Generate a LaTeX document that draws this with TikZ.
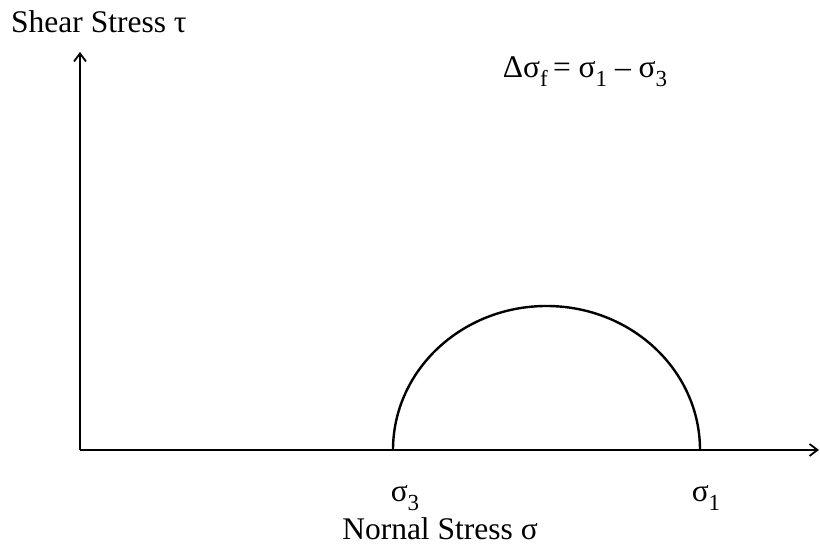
\documentclass[tikz,border=0pt]{standalone}
\usepackage{fontspec}
\setmainfont{Liberation Serif}
\usetikzlibrary{arrows.meta}
\newcommand{\lowidx}[1]{\raisebox{-0.28em}{\fontsize{23}{23}\selectfont #1}}
\begin{document}
\begin{tikzpicture}[x=1pt,y=1pt,
  axis/.style={line width=2.2pt,-{Straight Barb[length=8pt,width=12pt,line width=1.8pt]}},
  circ/.style={line width=2.4pt},
  lbl/.style={inner sep=0pt,font=\fontsize{31.5}{31.5}\selectfont}]
\useasboundingbox (0,0) rectangle (820,548);
% axes
\coordinate (O) at (80,98);
\coordinate (ytip) at (80,496);
\coordinate (xtip) at (819,98);
\draw[axis] (O) -- (ytip);
\draw[axis] (O) -- (xtip);
% Mohr circle
\coordinate (s3) at (393,98);
\coordinate (s1) at (700,98);
\draw[circ] (s3) arc[start angle=180,end angle=0,x radius=153.5,y radius=144];
% labels
\node[lbl,anchor=base west] (tau) at (11,515) {Shear Stress τ};
\node[lbl,anchor=base] (dsig) at (585,470) {Δσ\lowidx{f}\,= σ\lowidx{1} – σ\lowidx{3}};
\node[lbl,anchor=base] (lab3) at (405,46) {σ\lowidx{3}};
\node[lbl,anchor=base] (lab1) at (706,46) {σ\lowidx{1}};
\node[lbl,anchor=base] (sig) at (440,8) {Nornal Stress σ};
\end{tikzpicture}
\end{document}
